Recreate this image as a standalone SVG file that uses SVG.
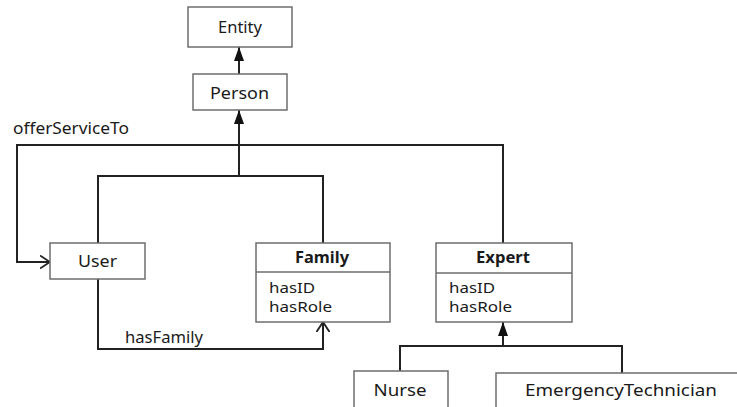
<svg xmlns="http://www.w3.org/2000/svg" width="737" height="407" viewBox="0 0 737 407">
<style>
.box{fill:#fff;stroke:#6e6e6e;stroke-width:1.5}
.div{stroke:#6e6e6e;stroke-width:1.5}
.t{font-family:"Noto Sans","Open Sans","DejaVu Sans",sans-serif;font-size:16px;fill:#1a1a1a}
.a{font-size:15px}
.b{font-weight:bold}
.c{text-anchor:middle}
.big{font-size:17px}
.ln{fill:none;stroke:#222;stroke-width:2}
</style>
<defs>
<marker id="fill" viewBox="0 0 14 10" refX="14" refY="5" markerWidth="14" markerHeight="10" markerUnits="userSpaceOnUse" orient="auto">
<path d="M0,0 L14,5 L0,10 Z" fill="#111"/>
</marker>
<marker id="open" viewBox="0 0 10 14" refX="10" refY="7" markerWidth="10" markerHeight="14" markerUnits="userSpaceOnUse" orient="auto">
<path d="M0,0.5 L10,7 L0,13.5" fill="none" stroke="#222" stroke-width="1.8"/>
</marker>
</defs>
<g id="connectors">
<path class="ln" d="M239,74 L239,47" marker-end="url(#fill)"/>
<path class="ln" d="M239,176 L239,110" marker-end="url(#fill)"/>
<path class="ln" d="M98,243 L98,176 L323,176 L323,243"/>
<path class="ln" d="M503,243 L503,145 L17,145 L17,262 L50,262" marker-end="url(#open)"/>
<path class="ln" d="M98,279 L98,349 L323,349 L323,322" marker-end="url(#open)"/>
<path class="ln" d="M503,346 L503,322" marker-end="url(#fill)"/>
<path class="ln" d="M400,371 L400,346 L622,346 L622,373"/>
<text class="t" x="13" y="134" textLength="116" lengthAdjust="spacingAndGlyphs">offerServiceTo</text>
<text class="t" x="125" y="343" textLength="78" lengthAdjust="spacingAndGlyphs">hasFamily</text>
</g>
<g id="entity">
<rect class="box" x="188" y="7" width="104" height="40"/>
<text class="t c" x="240" y="33" textLength="44" lengthAdjust="spacingAndGlyphs">Entity</text>
</g>
<g id="person">
<rect class="box" x="193" y="74" width="94" height="36"/>
<text class="t c" x="239.5" y="99" textLength="59" lengthAdjust="spacingAndGlyphs">Person</text>
</g>
<g id="user">
<rect class="box" x="50" y="243" width="95" height="36"/>
<text class="t c" x="97.5" y="267" textLength="39" lengthAdjust="spacingAndGlyphs">User</text>
</g>
<g id="family">
<rect class="box" x="256" y="243" width="134" height="79"/>
<line class="div" x1="256" y1="272" x2="390" y2="272"/>
<text class="t b c" x="322" y="263" textLength="54" lengthAdjust="spacingAndGlyphs">Family</text>
<text class="t a" x="269" y="293" textLength="46" lengthAdjust="spacingAndGlyphs">hasID</text>
<text class="t a" x="269" y="312" textLength="63" lengthAdjust="spacingAndGlyphs">hasRole</text>
</g>
<g id="expert">
<rect class="box" x="436" y="243" width="136" height="79"/>
<line class="div" x1="436" y1="273" x2="572" y2="273"/>
<text class="t b c" x="503" y="263" textLength="54" lengthAdjust="spacingAndGlyphs">Expert</text>
<text class="t a" x="449" y="293" textLength="46" lengthAdjust="spacingAndGlyphs">hasID</text>
<text class="t a" x="449" y="312" textLength="63" lengthAdjust="spacingAndGlyphs">hasRole</text>
</g>
<g id="nurse">
<rect class="box" x="354" y="371" width="94" height="45"/>
<text class="t big c" x="400" y="396" textLength="53" lengthAdjust="spacingAndGlyphs">Nurse</text>
</g>
<g id="emergencytechnician">
<rect class="box" x="496" y="373" width="260" height="45"/>
<text class="t big c" x="621" y="396" textLength="192" lengthAdjust="spacingAndGlyphs">EmergencyTechnician</text>
</g>
</svg>
